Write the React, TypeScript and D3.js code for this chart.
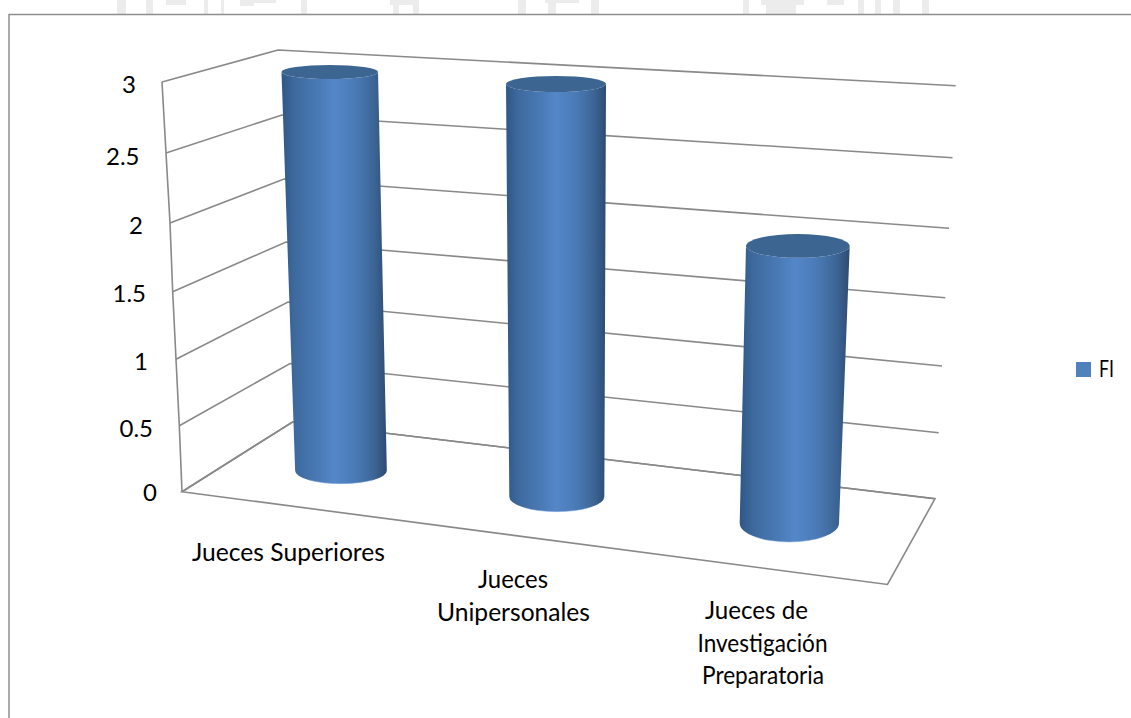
import React from "react";
import * as d3 from "d3";

const categories = [["Jueces Superiores"], ["Jueces", "Unipersonales"], ["Jueces de", "Investigación", "Preparatoria"]];
const seriesName = "FI";
const values = [3, 3, 2];
const ticks = [0, 0.5, 1, 1.5, 2, 2.5, 3];
const tickLabels = ["0", "0.5", "1", "1.5", "2", "2.5", "3"];

// Pixel anchors of the pseudo-3D box, keyed by tick value
const frontLeftX = [182, 179.3, 176, 172.7, 170, 166, 162];
const frontLeftY = [491.7, 425.7, 359.3, 291.7, 223, 153, 82];
const backLeftX = [292.5, 290, 288, 286, 284, 282, 278];
const backLeftY = [422, 363.5, 302, 242, 179, 115, 50];
const backRightX = [935, 938.7, 942, 945.3, 949, 952.5, 955.7];
const backRightY = [498.7, 432.7, 366, 297.7, 228.3, 157.7, 85.7];
const frontRight = [887.5, 584.5];
const labelRightX = [157, 153, 148, 146, 143, 139.5, 136];
const labelBaseY = [500.5, 436.5, 369.5, 301.5, 233.5, 164.5, 92.5];

// Cylinder geometry at value 0 and at the axis maximum
const baseCX = [341, 556.8, 789.35];
const topCX = [329.75, 556, 802.1];
const baseCY = [470.7, 496.7, 523.3];
const topCY = [72, 84, 107.3];
const baseRX = [45.85, 47.5, 49.65];
const topRX = [48.25, 50, 52.95];
const baseRY = [13, 15, 18.7];
const topRY = [7, 8, 8.5];

// Category label lines: centre, baseline, width
const catLineX = [[288.5], [513, 513.5], [756.5, 762.5, 763]];
const catLineY = [[561], [588, 620.5], [619, 651.5, 684]];
const catLineW = [[193], [70, 153], [103, 130, 122]];

// Faint scan-through of the page behind the chart: x, width, height
const watermark = [
  [117, 9, 14], [146, 7, 14], [166, 20, 5], [204, 4, 14], [221, 3, 14], [240, 14, 6], [250, 26, 3], [301, 6, 14],
  [390, 28, 5], [393, 6, 14], [413, 6, 14], [518, 8, 14], [545, 34, 3], [548, 8, 14], [591, 8, 14],
  [743, 6, 14], [761, 43, 5], [766, 30, 14], [827, 17, 5], [858, 6, 14], [875, 6, 14], [893, 7, 14], [922, 7, 14],
];

const FONT = "Lato, Carlito, sans-serif";
const GRID = "#898989";

const fL = (s: number[]) => d3.scaleLinear().domain(ticks).range(s);
const flx = fL(frontLeftX), fly = fL(frontLeftY);
const blx = fL(backLeftX), bly = fL(backLeftY);
const brx = fL(backRightX), bry = fL(backRightY);
const lineGen = d3.line<[number, number]>();

function Cylinder({ i, v }: { i: number; v: number }) {
  const s = (a: number[], b: number[]) => d3.scaleLinear().domain([0, 3]).range([a[i], b[i]]);
  const cx = s(baseCX, topCX), cy = s(baseCY, topCY), rx = s(baseRX, topRX), ry = s(baseRY, topRY);
  const tx = cx(v), ty = cy(v), trx = rx(v), tr = ry(v);
  const bx = cx(0), by = cy(0), brx0 = rx(0), br = ry(0);
  const side = `M${tx - trx},${ty} L${bx - brx0},${by} A${brx0},${br} 0 0 0 ${bx + brx0},${by} L${tx + trx},${ty} A${trx},${tr} 0 0 1 ${tx - trx},${ty} Z`;
  const rim = `M${bx - brx0 * 0.7},${by + br * 0.71} A${brx0},${br} 0 0 0 ${bx + brx0 * 0.7},${by + br * 0.71}`;
  return (
    <g>
      <path d={side} fill="url(#cyl)" />
      <path d={rim} fill="none" stroke="#7ea6dc" strokeWidth={1} opacity={0.55} />
      <ellipse cx={tx} cy={ty} rx={trx} ry={tr} fill="#3d6592" />
    </g>
  );
}

export default function App() {
  const floor = lineGen([
    [flx(0), fly(0)],
    frontRight as [number, number],
    [brx(0), bry(0)],
    [blx(0), bly(0)],
  ]) + "Z";
  const wall = lineGen(ticks.map((t) => [flx(t), fly(t)] as [number, number]));
  return (
    <svg width={1131} height={718} style={{ position: "absolute", left: 0, top: 0, background: "#fff" }} fontFamily={FONT}>
      <defs>
        <linearGradient id="cyl" x1="0" x2="1" y1="0" y2="0">
          <stop offset="0" stopColor="#2f5787" />
          <stop offset="0.12" stopColor="#3d699d" />
          <stop offset="0.35" stopColor="#4a7ab5" />
          <stop offset="0.5" stopColor="#5487c9" />
          <stop offset="0.7" stopColor="#4a7ab6" />
          <stop offset="0.88" stopColor="#3c6595" />
          <stop offset="1" stopColor="#2d4b73" />
        </linearGradient>
      </defs>
      <g fill="#ececec">
        {watermark.map(([x, w, h], i) => (
          <rect key={i} x={x} y={0} width={w} height={h} />
        ))}
      </g>
      <path d={`M9,718 V14.5 H1131`} fill="none" stroke="#8e8e8e" strokeWidth={1.5} />
      <path d={floor} fill="none" stroke={GRID} strokeWidth={1.6} />
      {ticks.map((t) => (
        <path
          key={t}
          d={lineGen([[flx(t), fly(t)], [blx(t), bly(t)], [brx(t), bry(t)]]) as string}
          fill="none"
          stroke={GRID}
          strokeWidth={1.6}
        />
      ))}
      <path d={wall as string} fill="none" stroke={GRID} strokeWidth={1.6} />
      {values.map((v, i) => (
        <Cylinder key={i} i={i} v={v} />
      ))}
      <g fontSize={24} fill="#000" textAnchor="end">
        {ticks.map((t, i) => (
          <text key={t} x={labelRightX[i]} y={labelBaseY[i]}>{tickLabels[i]}</text>
        ))}
      </g>
      <g fontSize={24.6} fill="#000">
        {categories.map((lines, i) =>
          lines.map((l, j) => (
            <text
              key={`${i}-${j}`}
              x={catLineX[i][j] - catLineW[i][j] / 2}
              y={catLineY[i][j]}
              textLength={catLineW[i][j]}
              lengthAdjust="spacingAndGlyphs"
            >
              {l}
            </text>
          ))
        )}
      </g>
      <rect x={1076} y={362} width={15} height={15} fill="#4f81bd" />
      <text x={1099} y={377} fontSize={24} fill="#000" textLength={15} lengthAdjust="spacingAndGlyphs">{seriesName}</text>
    </svg>
  );
}
